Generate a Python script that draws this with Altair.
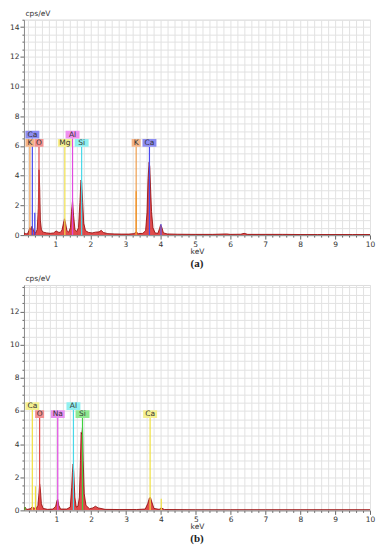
import altair as alt
import pandas as pd

# ---------------- panel (a) spectrum ----------------
a_kev = [0.10, 0.15, 0.20, 0.24, 0.27, 0.30, 0.33, 0.36, 0.40, 0.44, 0.48, 0.51, 0.53, 0.55,
         0.57, 0.60, 0.65, 0.75, 0.85, 0.95, 1.02, 1.08, 1.14, 1.19, 1.23, 1.26, 1.29, 1.33,
         1.38, 1.43, 1.46, 1.49, 1.52, 1.56, 1.61, 1.66, 1.70, 1.73, 1.75, 1.78, 1.81, 1.86,
         1.95, 2.05, 2.15, 2.25, 2.31, 2.37, 2.50, 2.70, 2.90, 3.10, 3.25, 3.31, 3.37, 3.50,
         3.58, 3.62, 3.65, 3.68, 3.70, 3.72, 3.75, 3.79, 3.85, 3.93, 3.98, 4.01, 4.04, 4.09,
         4.20, 4.50, 5.00, 5.50, 5.90, 6.00, 6.30, 6.40, 6.50, 7.00, 7.50, 8.00, 8.50, 9.00,
         9.50, 10.00]
a_cps = [0.15, 0.10, 0.08, 0.30, 0.50, 0.35, 0.60, 0.40, 0.20, 0.15, 0.40, 1.80, 4.40, 3.20,
         1.00, 0.35, 0.20, 0.15, 0.12, 0.15, 0.28, 0.20, 0.18, 0.35, 0.80, 1.10, 0.80, 0.30,
         0.20, 0.50, 1.60, 2.30, 1.30, 0.35, 0.25, 0.50, 2.20, 3.70, 3.60, 2.20, 0.80, 0.30,
         0.18, 0.15, 0.20, 0.22, 0.32, 0.18, 0.10, 0.08, 0.07, 0.07, 0.10, 0.22, 0.10, 0.12,
         0.30, 1.50, 3.80, 4.90, 4.60, 3.30, 1.60, 0.50, 0.15, 0.12, 0.45, 0.70, 0.55, 0.15,
         0.08, 0.06, 0.05, 0.05, 0.08, 0.05, 0.06, 0.12, 0.05, 0.05, 0.05, 0.04, 0.04, 0.04,
         0.04, 0.04]

a_lab_name = ["Ca", "K", "O", "Mg", "Al", "Si", "K", "Ca"]
a_lab_kev = [0.34, 0.27, 0.53, 1.27, 1.49, 1.75, 3.31, 3.69]
a_lab_row = [1, 2, 2, 2, 1, 2, 2, 2]
a_lab_fill = ["#8c8cf2", "#f4b486", "#f29090", "#f4f090", "#f090f0", "#90f0f0", "#f4b486", "#8c8cf2"]
a_lab_line = ["#4a4af0", "#f0a050", "#e04848", "#f0e04c", "#e048e0", "#48d8e8", "#f0a050", "#4a4af0"]

a_ex_kev = [0.41, 3.31, 4.02]
a_ex_top = [1.5, 2.95, 0.75]
a_ex_col = ["#3c3cf0", "#f09020", "#6060f0"]

# ---------------- panel (b) spectrum ----------------
b_kev = [0.07, 0.10, 0.15, 0.25, 0.30, 0.35, 0.42, 0.47, 0.50, 0.52, 0.54, 0.57, 0.62, 0.75,
         0.90, 0.98, 1.02, 1.04, 1.07, 1.12, 1.30, 1.40, 1.44, 1.46, 1.48, 1.50, 1.53, 1.57,
         1.62, 1.66, 1.69, 1.71, 1.73, 1.75, 1.77, 1.80, 1.85, 1.95, 2.05, 2.12, 2.20, 2.40,
         2.80, 3.30, 3.55, 3.62, 3.67, 3.70, 3.74, 3.80, 3.95, 4.01, 4.10, 5.00, 6.00, 7.00,
         8.00, 9.00, 10.00]
b_cps = [0.05, 0.20, 0.05, 0.10, 0.20, 0.15, 0.10, 0.30, 1.00, 1.60, 1.30, 0.40, 0.12, 0.06,
         0.08, 0.25, 0.60, 0.65, 0.30, 0.08, 0.08, 0.20, 1.40, 2.30, 2.80, 2.30, 0.80, 0.20,
         0.25, 0.80, 3.00, 4.70, 4.60, 5.00, 3.00, 1.00, 0.30, 0.10, 0.15, 0.25, 0.15, 0.06,
         0.05, 0.05, 0.08, 0.40, 0.75, 0.78, 0.50, 0.12, 0.06, 0.15, 0.05, 0.04, 0.04, 0.04,
         0.04, 0.04, 0.04]

b_lab_name = ["Ca", "O", "Na", "Al", "Si", "Ca"]
b_lab_kev = [0.31, 0.52, 1.04, 1.49, 1.75, 3.69]
b_lab_row = [1, 2, 2, 1, 2, 2]
b_lab_fill = ["#f4f090", "#f29090", "#e890f0", "#90f0f0", "#90e890", "#f4f090"]
b_lab_line = ["#f0e040", "#e04848", "#e048e0", "#48d8e8", "#40d040", "#f0e040"]

b_ex_kev = [0.40, 4.01, 0.10]
b_ex_top = [1.45, 0.70, 0.20]
b_ex_col = ["#f0e040", "#f0e040", "#40d040"]

FONT = "DejaVu Sans"


def panel(kev, cps, lname, lkev, lrow, lfill, lline, ekev, etop, ecol,
          xdom, ydom, w, h, row_y, box_h, tag):
    px_per_kev = w / (xdom[1] - xdom[0])
    spec = pd.DataFrame({"keV": kev, "cps": cps})
    lab = pd.DataFrame({"name": lname, "keV": lkev, "row": lrow, "fill": lfill, "line": lline})
    lab["y0"] = [row_y[r] for r in lab["row"]]
    lab["y1"] = lab["y0"] + box_h
    lab["ym"] = (lab["y0"] + lab["y1"]) / 2
    halfw = (lab["name"].str.len() * 5 + 4) / 2 / px_per_kev
    lab["x0"] = lab["keV"] - halfw
    lab["x1"] = lab["keV"] + halfw
    lab["zero"] = 0.0
    ex = pd.DataFrame({"keV": ekev, "top": etop, "col": ecol, "zero": 0.0})

    xvals = [round(0.2 * i, 1) for i in range(1, 51)]
    yvals = [0.5 * i for i in range(0, int(ydom[1] * 2) + 1)]

    xaxis = alt.Axis(values=xvals, labelExpr="datum.value % 1 === 0 ? format(datum.value, 'd') : ''",
                     tickSize={"condition": {"test": "datum.value % 1 === 0", "value": 4}, "value": 2},
                     grid=True, gridColor="#e2e2e2", gridWidth=1, domainColor="#8a8a8a",
                     tickColor="#666", labelFont=FONT, labelFontSize=7.5, labelColor="#333",
                     labelOverlap=False, labelFlush=False, labelPadding=1,
                     title="keV", titleFont=FONT, titleFontSize=7.5, titleFontWeight="normal",
                     titleColor="#333", titlePadding=0)
    yaxis = alt.Axis(values=yvals, labelExpr="datum.value % 2 === 0 ? format(datum.value, 'd') : ''",
                     tickSize={"condition": {"test": "datum.value % 2 === 0", "value": 4}, "value": 2},
                     grid=True, gridColor="#e2e2e2", gridWidth=1, domainColor="#8a8a8a",
                     tickColor="#666", labelFont=FONT, labelFontSize=7.5, labelColor="#333",
                     labelOverlap=False, labelFlush=False, labelPadding=1,
                     title="cps/eV", titleFont=FONT, titleFontSize=7.5, titleFontWeight="normal",
                     titleColor="#333", titleAngle=0, titleAlign="left", titleBaseline="bottom",
                     titleX=1, titleY=-2)

    def X(f):
        return alt.X(f, scale=alt.Scale(domain=xdom, nice=False, zero=False), axis=xaxis)

    def Y(f):
        return alt.Y(f, scale=alt.Scale(domain=ydom, nice=False, zero=False), axis=yaxis)

    area = alt.Chart(spec).mark_area(color="#d40000", clip=True, interpolate="linear",
                                     line={"color": "#8e0000", "strokeWidth": 0.8}).encode(
        x=X("keV:Q"), y=Y("cps:Q"),
    )
    rules = alt.Chart(lab).mark_rule(strokeWidth=1.2, clip=True).encode(
        x=X("keV:Q"), y=Y("zero:Q"), y2="y0:Q",
        color=alt.Color("line:N", scale=None),
    )
    extra = alt.Chart(ex).mark_rule(strokeWidth=1.2, clip=True).encode(
        x=X("keV:Q"), y=Y("zero:Q"), y2="top:Q",
        color=alt.Color("col:N", scale=None),
    )
    boxes = alt.Chart(lab).mark_rect(clip=True).encode(
        x=X("x0:Q"), x2="x1:Q", y=Y("y0:Q"), y2="y1:Q",
        color=alt.Color("fill:N", scale=None),
    )
    texts = alt.Chart(lab).mark_text(font=FONT, fontSize=7.5, color="#333",
                                     align="center", baseline="middle").encode(
        x=X("keV:Q"), y=Y("ym:Q"), text="name:N",
    )
    return alt.layer(area, rules, extra, boxes, texts).properties(
        width=w, height=h,
        title=alt.TitleParams(tag, orient="bottom", font="Liberation Serif", fontSize=11,
                              fontWeight="bold", color="#222", anchor="middle", offset=3),
    )


pa = panel(a_kev, a_cps, a_lab_name, a_lab_kev, a_lab_row, a_lab_fill, a_lab_line,
           a_ex_kev, a_ex_top, a_ex_col, [0.1, 10], [0, 14.5], 347, 216,
           {1: 6.50, 2: 5.95}, 0.52, "(a)")
pb = panel(b_kev, b_cps, b_lab_name, b_lab_kev, b_lab_row, b_lab_fill, b_lab_line,
           b_ex_kev, b_ex_top, b_ex_col, [0.07, 10], [0, 13.6], 347, 226,
           {1: 6.06, 2: 5.57}, 0.47, "(b)")

chart = alt.vconcat(pa, pb, spacing=4, padding=0).configure_view(
    stroke="#8a8a8a", strokeWidth=2
).configure(background="white")

chart.save("out.html", embed_options={"renderer": "svg", "actions": False})
